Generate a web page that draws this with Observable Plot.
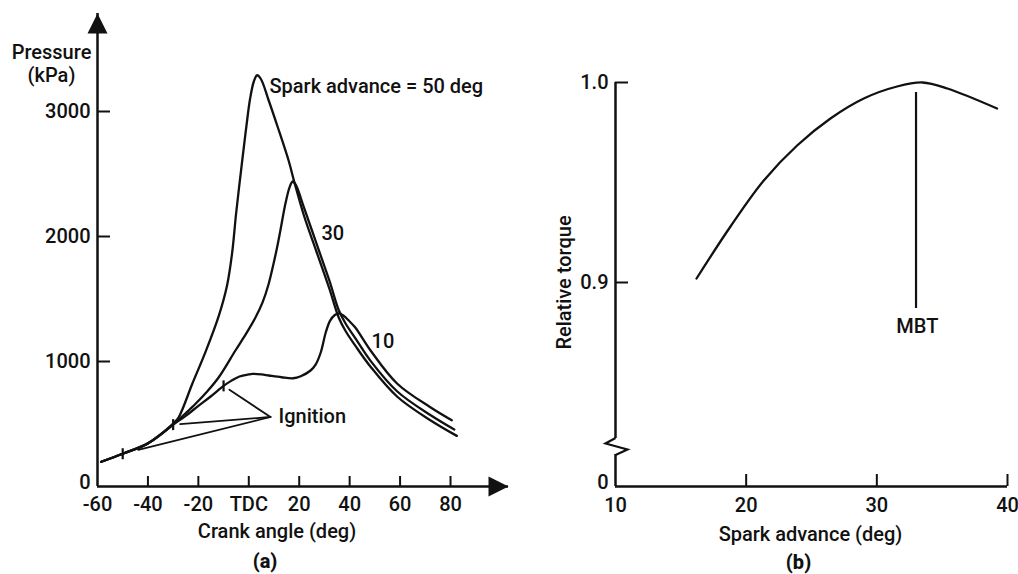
<!DOCTYPE html>
<html>
<head>
<meta charset="utf-8">
<script src="https://cdn.jsdelivr.net/npm/d3@7"></script>
<script src="https://cdn.jsdelivr.net/npm/@observablehq/plot@0.6"></script>
<style>
  html, body { margin: 0; padding: 0; background: #fff; }
  #wrap { position: relative; width: 1018px; height: 574px; overflow: hidden; }
  #wrap svg { position: absolute; top: 0; }
</style>
</head>
<body>
<div id="wrap"></div>
<script>
// ---------- (a) cylinder pressure vs crank angle, three spark advances ----------
const angle50 = [-58.5, -50, -40, -30, -27.8, -22.4, -17.2, -11.9, -8.6, -6.6, -5.0, -2.6, -1.0, 0.5, 2.0, 3.3, 4.8, 7.9, 11.5, 15.9, 18, 22, 27, 32, 35.7, 38.5, 42.3, 48.3, 58.9, 72, 82.5];
const pressure50 = [198, 262, 345, 503, 554, 822, 1075, 1365, 1610, 1870, 2190, 2608, 2874, 3100, 3240, 3290, 3260, 3088, 2874, 2600, 2440, 2160, 1870, 1580, 1350, 1240, 1125, 958, 718, 530, 405];

const angle30 = [-58.5, -50, -40, -30, -25.5, -21.1, -16.5, -11.9, -5.3, -1, 2.7, 5.5, 7.9, 9.9, 11.3, 12.5, 14.6, 16.2, 17.4, 18.6, 22, 27, 32, 35.7, 38.5, 42.3, 48.3, 58.9, 72, 81.5];
const pressure30 = [198, 262, 345, 495, 578, 662, 760, 874, 1088, 1225, 1354, 1475, 1622, 1790, 1920, 2045, 2270, 2395, 2440, 2415, 2225, 1935, 1645, 1410, 1300, 1185, 1005, 760, 572, 456];

const angle10 = [-58.5, -50, -40, -30, -25, -20, -15, -10, -7, -3.7, 0, 1.5, 5, 8, 13, 17.6, 20.6, 24.5, 26.5, 28.5, 30.5, 32.2, 34, 35.7, 37.5, 40, 42.3, 48.3, 58.9, 72, 80.5];
const pressure10 = [198, 262, 345, 495, 565, 645, 722, 805, 845, 880, 897, 901, 897, 888, 874, 866, 882, 928, 975, 1070, 1230, 1325, 1370, 1385, 1368, 1320, 1270, 1088, 822, 634, 530];

// spark (ignition) points on the compression line
const ignitionAngle = [-50, -30, -10];
const ignitionPressure = [262, 495, 805];

const pressureTicks = [0, 1000, 2000, 3000];
const angleTicks = [-60, -40, -20, 0, 20, 40, 60, 80];

// ---------- (b) relative torque vs spark advance ----------
const sparkAdvance = [16.2, 18.8, 21.35, 23.9, 26.45, 29.0, 31.55, 33.5, 35.4, 39.2];
const relativeTorque = [0.902, 0.928, 0.951, 0.9685, 0.982, 0.992, 0.998, 1.0, 0.997, 0.987];
const torqueTicks = [0.8, 0.9, 1.0];
const advanceTicks = [10, 20, 30, 40];
const mbtAdvance = 33;

// helpers
const toRows = (xs, ys) => xs.map((x, i) => ({x, y: ys[i]}));
const series = [
  ...toRows(angle50, pressure50).map(d => ({...d, s: "50"})),
  ...toRows(angle30, pressure30).map(d => ({...d, s: "30"})),
  ...toRows(angle10, pressure10).map(d => ({...d, s: "10"}))
];
const ignition = toRows(ignitionAngle, ignitionPressure);

// filled arrowhead, tip at the origin, pointing up
const arrowHead = {draw(ctx) { ctx.moveTo(0, 0); ctx.lineTo(-10, 20); ctx.lineTo(10, 20); ctx.closePath(); }};
// short stroke across a curve
const tickGlyph = {draw(ctx) { ctx.moveTo(0, -5.5); ctx.lineTo(0, 5.5); }};
// zig-zag axis break
const breakGlyph = {draw(ctx) { ctx.moveTo(0, -8.5); ctx.lineTo(-10, -3); ctx.lineTo(12, 3); ctx.lineTo(0, 8.5); }};

const ink = "#111";
const font = {fontFamily: "Roboto, 'Open Sans', sans-serif", fontSize: "20px", fontWeight: 500, background: "transparent", overflow: "visible", color: ink};
const label = {fill: ink, textAnchor: "middle", lineAnchor: "middle"};
const panelTag = {...label, fontWeight: 800, fontSize: 20};

const xMax = 103, yMax = 3784;
const hub = {x: 8.6, y: 556};

const plotA = Plot.plot({
  width: 520, height: 574,
  marginLeft: 97, marginRight: 12, marginTop: 13, marginBottom: 88,
  x: {domain: [-60, xMax]},
  y: {domain: [0, yMax]},
  style: font,
  marks: [
    // axes with arrowheads
    Plot.ruleX([-60], {y1: 0, y2: yMax, stroke: ink, strokeWidth: 2.5}),
    Plot.ruleY([0], {x1: -60, x2: xMax, stroke: ink, strokeWidth: 2.5}),
    Plot.dot([{x: -60, y: yMax}], {x: "x", y: "y", symbol: arrowHead, fill: ink, stroke: null}),
    Plot.dot([{x: xMax, y: 0}], {x: "x", y: "y", symbol: arrowHead, rotate: 90, fill: ink, stroke: null}),
    Plot.axisY({ticks: pressureTicks.slice(1), tickSize: -13, tickFormat: () => "", strokeWidth: 2, label: null}),
    Plot.axisY({ticks: pressureTicks.slice(1), tickSize: 0, tickPadding: 7, tickFormat: d => String(d), label: null}),
    Plot.axisY({ticks: pressureTicks.slice(0, 1), tickSize: 0, tickPadding: 7, dy: -4, tickFormat: d => String(d), label: null}),
    Plot.axisX({ticks: angleTicks.slice(1), tickSize: -10, tickFormat: () => "", strokeWidth: 2, label: null}),
    Plot.axisX({ticks: angleTicks, tickSize: 0, tickPadding: 10, tickFormat: d => d === 0 ? "TDC" : String(d), label: null}),
    // pressure traces
    Plot.line(series, {x: "x", y: "y", z: "s", curve: "catmull-rom", stroke: ink, strokeWidth: 2.3}),
    // ignition marks and leaders
    Plot.dot(ignition, {x: "x", y: "y", symbol: tickGlyph, fill: "none", stroke: ink, strokeWidth: 2.2}),
    Plot.arrow(ignition.slice(1), {x1: hub.x, y1: hub.y, x2: "x", y2: "y", headLength: 0, insetEnd: 7, stroke: ink, strokeWidth: 1.8}),
    Plot.arrow(ignition.slice(0, 1), {x1: hub.x, y1: hub.y, x2: "x", y2: "y", headLength: 0, insetEnd: 16, stroke: ink, strokeWidth: 1.8}),
    // annotations
    Plot.text(["Spark advance = 50 deg"], {...label, x: 8.2, y: 3200, textAnchor: "start"}),
    Plot.text(["30"], {...label, x: 33.3, y: 2024}),
    Plot.text(["10"], {...label, x: 53.2, y: 1156}),
    Plot.text(["Ignition"], {...label, x: 11.8, y: 560, textAnchor: "start"}),
    // titles
    Plot.text(["Pressure"], {...label, frameAnchor: "top-left", dx: -46, dy: 39}),
    Plot.text(["(kPa)"], {...label, frameAnchor: "top-left", dx: -46, dy: 62}),
    Plot.text(["Crank angle (deg)"], {...label, frameAnchor: "bottom", dx: -26, dy: 45}),
    Plot.text(["(a)"], {...panelTag, frameAnchor: "bottom", dx: -38, dy: 75})
  ]
});

const yLow = 0.798, breakAt = 0.818, breakHalf = 0.004;

const plotB = Plot.plot({
  width: 498, height: 574,
  marginLeft: 95, marginRight: 11, marginTop: 82, marginBottom: 88,
  x: {domain: [10, 40]},
  y: {domain: [yLow, 1.0]},
  style: font,
  marks: [
    // broken y axis and x axis
    Plot.ruleX([10], {y1: yLow, y2: breakAt - breakHalf, stroke: ink, strokeWidth: 2.5}),
    Plot.ruleX([10], {y1: breakAt + breakHalf, y2: 1.0, stroke: ink, strokeWidth: 2.5}),
    Plot.dot([{x: 10, y: breakAt}], {x: "x", y: "y", symbol: breakGlyph, fill: "none", stroke: ink, strokeWidth: 2.2}),
    Plot.ruleY([yLow], {x1: 10, x2: 40, stroke: ink, strokeWidth: 2.5}),
    Plot.axisY({ticks: torqueTicks.slice(1), tickSize: -13, tickFormat: () => "", strokeWidth: 2, label: null}),
    Plot.axisY({ticks: torqueTicks, tickSize: 0, tickPadding: 7, tickFormat: d => d === 0.8 ? "0" : d.toFixed(1), label: null}),
    Plot.axisX({ticks: advanceTicks.slice(1), tickSize: -12, tickFormat: () => "", strokeWidth: 2, label: null}),
    Plot.axisX({ticks: advanceTicks, tickSize: 0, tickPadding: 11, tickFormat: d => String(d), label: null}),
    // torque curve and MBT marker
    Plot.line(toRows(sparkAdvance, relativeTorque), {x: "x", y: "y", curve: "catmull-rom", stroke: ink, strokeWidth: 2.3}),
    Plot.ruleX([mbtAdvance], {y1: 0.887, y2: 0.995, stroke: ink, strokeWidth: 2.2}),
    Plot.text(["MBT"], {...label, x: 33.1, y: 0.878}),
    // titles
    Plot.text(["Relative torque"], {...label, frameAnchor: "left", rotate: -90, dx: -51, dy: -2}),
    Plot.text(["Spark advance (deg)"], {...label, frameAnchor: "bottom", dx: -1, dy: 48}),
    Plot.text(["(b)"], {...panelTag, frameAnchor: "bottom", dx: -13, dy: 76})
  ]
});

plotA.style.left = "0px";
plotB.style.left = "520px";
const wrap = document.getElementById("wrap");
wrap.append(plotA, plotB);
</script>
</body>
</html>
